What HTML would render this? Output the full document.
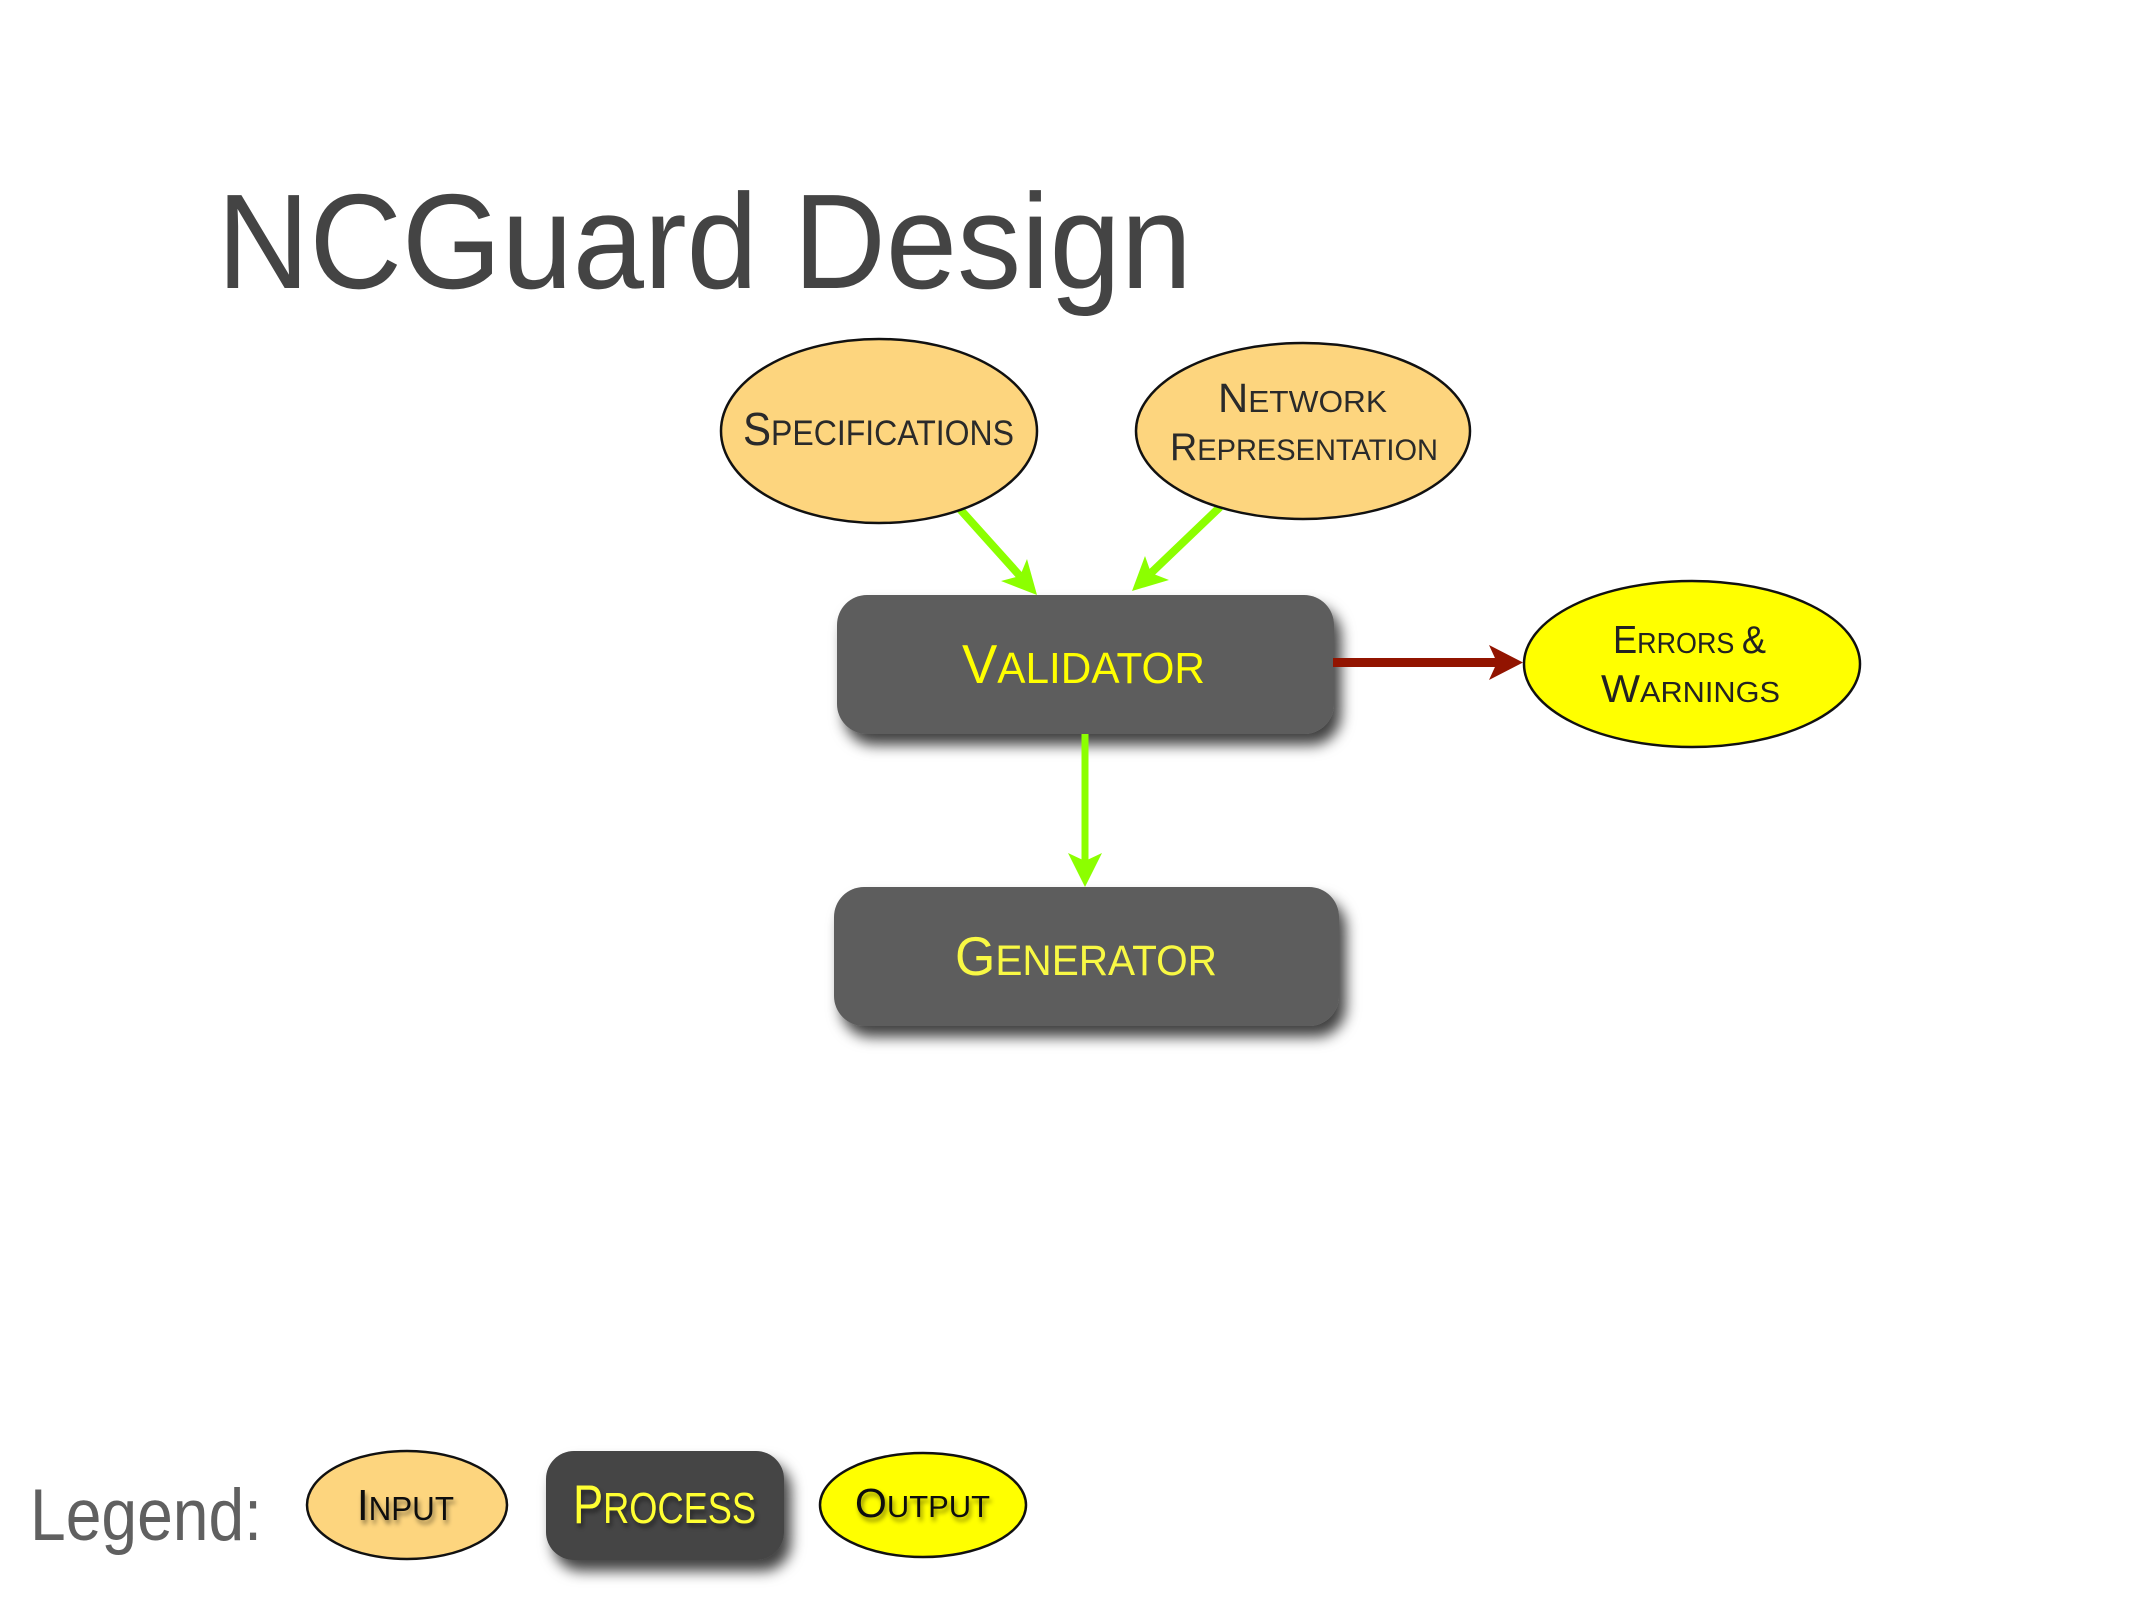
<!DOCTYPE html>
<html>
<head>
<meta charset="utf-8">
<style>
  html, body { margin: 0; padding: 0; background: #ffffff; }
  body { width: 2134px; height: 1600px; overflow: hidden; }
  svg { display: block; }
  text { font-family: "Liberation Sans", "DejaVu Sans", sans-serif; }
</style>
</head>
<body>
<svg width="2134" height="1600" viewBox="0 0 2134 1600" xmlns="http://www.w3.org/2000/svg">
  <defs>
    <filter id="boxshadow" x="-20%" y="-30%" width="150%" height="170%">
      <feDropShadow dx="7" dy="11" stdDeviation="7" flood-color="#000" flood-opacity="0.75"/>
    </filter>
    <filter id="txtshadow" x="-10%" y="-20%" width="130%" height="160%">
      <feDropShadow dx="2" dy="4" stdDeviation="2.5" flood-color="#000" flood-opacity="0.45"/>
    </filter>
  </defs>

  <!-- Title -->
  <text x="217" y="288" font-size="135" fill="#444444" textLength="975" lengthAdjust="spacingAndGlyphs">NCGuard Design</text>

  <!-- Process boxes -->
  <rect x="837" y="595" width="497" height="139" rx="30" ry="30" fill="#5d5d5d" filter="url(#boxshadow)"/>
  <rect x="834" y="887" width="505" height="139" rx="30" ry="30" fill="#5d5d5d" filter="url(#boxshadow)"/>

  <!-- Arrows: green from inputs -->
  <line x1="958" y1="507" x2="1020" y2="576" stroke="#8cff00" stroke-width="8"/>
  <polygon points="1037,595 1001,581 1020,576 1027,559" fill="#8cff00"/>
  <line x1="1220" y1="507" x2="1151" y2="573" stroke="#8cff00" stroke-width="8"/>
  <polygon points="1132,591 1145,556 1151,573 1169,580" fill="#8cff00"/>

  <!-- Vertical green arrow -->
  <line x1="1085" y1="734" x2="1085" y2="862" stroke="#8cff00" stroke-width="7"/>
  <polygon points="1085,887 1068,853 1085,861 1102,853" fill="#8cff00"/>

  <!-- Red arrow -->
  <line x1="1333" y1="662.5" x2="1498" y2="662.5" stroke="#921400" stroke-width="9"/>
  <polygon points="1523,662.5 1489,645 1497,662.5 1489,680" fill="#921400"/>

  <!-- Input ellipses -->
  <ellipse cx="879" cy="431" rx="158" ry="92" fill="#fdd57e" stroke="#111" stroke-width="2.5"/>
  <ellipse cx="1303" cy="431" rx="167" ry="88" fill="#fdd57e" stroke="#111" stroke-width="2.5"/>

  <!-- Output ellipse -->
  <ellipse cx="1692" cy="664" rx="168" ry="83" fill="#ffff00" stroke="#111" stroke-width="2.5"/>

  <!-- Node labels -->
  <text x="743" y="445" fill="#2a2a2a" textLength="271" lengthAdjust="spacingAndGlyphs"><tspan font-size="46">S</tspan><tspan font-size="35">PECIFICATIONS</tspan></text>

  <text x="1218" y="412" fill="#2a2a2a" textLength="169" lengthAdjust="spacingAndGlyphs"><tspan font-size="41">N</tspan><tspan font-size="31">ETWORK</tspan></text>
  <text x="1170" y="460" fill="#2a2a2a" textLength="268" lengthAdjust="spacingAndGlyphs"><tspan font-size="39">R</tspan><tspan font-size="30">EPRESENTATION</tspan></text>

  <text x="1613" y="653" fill="#222" textLength="153" lengthAdjust="spacingAndGlyphs"><tspan font-size="39">E</tspan><tspan font-size="29">RRORS </tspan><tspan font-size="39">&amp;</tspan></text>
  <text x="1601" y="702" fill="#222" textLength="179" lengthAdjust="spacingAndGlyphs"><tspan font-size="39">W</tspan><tspan font-size="29">ARNINGS</tspan></text>

  <text x="962" y="683" fill="#ffff00" textLength="243" lengthAdjust="spacingAndGlyphs"><tspan font-size="55">V</tspan><tspan font-size="44">ALIDATOR</tspan></text>
  <text x="955" y="975" fill="#f8f844" textLength="262" lengthAdjust="spacingAndGlyphs"><tspan font-size="55">G</tspan><tspan font-size="43">ENERATOR</tspan></text>

  <!-- Legend -->
  <text x="30" y="1540" font-size="73" fill="#606060" textLength="232" lengthAdjust="spacingAndGlyphs">Legend:</text>

  <ellipse cx="407" cy="1505" rx="100" ry="54" fill="#fdd57e" stroke="#111" stroke-width="2.5"/>
  <text x="357" y="1520" fill="#111" textLength="97" lengthAdjust="spacingAndGlyphs" filter="url(#txtshadow)"><tspan font-size="44">I</tspan><tspan font-size="33">NPUT</tspan></text>

  <rect x="546" y="1451" width="238" height="109" rx="28" ry="28" fill="#444444" filter="url(#boxshadow)"/>
  <text x="573" y="1523" fill="#ffff33" textLength="183" lengthAdjust="spacingAndGlyphs" filter="url(#txtshadow)"><tspan font-size="55">P</tspan><tspan font-size="44">ROCESS</tspan></text>

  <ellipse cx="923" cy="1505" rx="103" ry="52" fill="#ffff00" stroke="#111" stroke-width="2.5"/>
  <text x="855" y="1517" fill="#111" textLength="135" lengthAdjust="spacingAndGlyphs" filter="url(#txtshadow)"><tspan font-size="41">O</tspan><tspan font-size="31">UTPUT</tspan></text>
</svg>
</body>
</html>
